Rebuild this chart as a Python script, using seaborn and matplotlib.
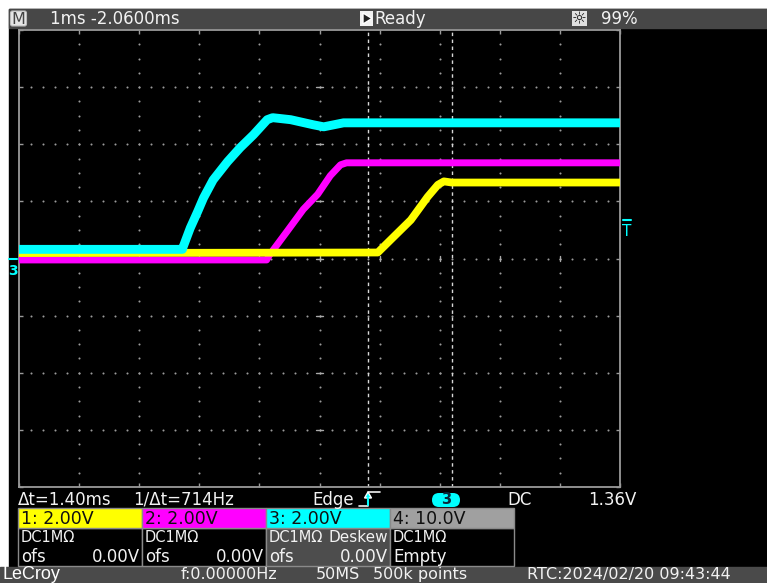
import numpy as np
import pandas as pd
import matplotlib
matplotlib.use("Agg")
import matplotlib.pyplot as plt
import seaborn as sns
from matplotlib.patches import Rectangle, FancyBboxPatch, Polygon

# ---------------- data (time in ms from left screen edge, volts) ----------------
ch1_t = [0.0, 5.97, 6.23, 6.52, 6.80, 6.97, 7.07, 7.20, 10.0]          # yellow
ch1_v = [0.19, 0.21, 0.75, 1.35, 2.16, 2.58, 2.70, 2.66, 2.66]
ch2_t = [0.0, 4.12, 4.16, 4.45, 4.73, 4.97, 5.18, 5.35, 5.45, 10.0]    # magenta
ch2_v = [-0.05, -0.05, 0.10, 0.92, 1.72, 2.25, 2.90, 3.28, 3.35, 3.35]
ch3_t = [0.0, 2.72, 2.73, 2.85, 2.97, 3.07, 3.23, 3.47, 3.68, 3.90,
         4.13, 4.22, 4.52, 4.90, 5.07, 5.40, 10.0]                     # cyan
ch3_v = [0.32, 0.32, 0.40, 1.07, 1.63, 2.12, 2.75, 3.39, 3.88, 4.33,
         4.86, 4.93, 4.86, 4.68, 4.61, 4.75, 4.75]

cursor_times = [5.8, 7.2]
channel_labels = ["1: 2.00V", "2: 2.00V", "3: 2.00V", "4: 10.0V"]
channel_colors = ["#ffff00", "#ff00ff", "#00ffff", "#a0a0a0"]
body_row1 = [("DC1MΩ", ""), ("DC1MΩ", ""), ("DC1MΩ", "Deskew"), ("DC1MΩ", "")]
body_row2 = [("ofs", "0.00V"), ("ofs", "0.00V"), ("ofs", "0.00V"), ("Empty", "")]

df = pd.concat([
    pd.DataFrame({"t": ch2_t, "v": ch2_v, "ch": "C2"}),
    pd.DataFrame({"t": ch1_t, "v": ch1_v, "ch": "C1"}),
    pd.DataFrame({"t": ch3_t, "v": ch3_v, "ch": "C3"}),
], ignore_index=True)
palette = {"C1": "#ffff00", "C2": "#ff00ff", "C3": "#00ffff"}
widths = {"C2": 5.0, "C1": 5.6, "C3": 6.4}

# ---------------- figure ----------------
W, H = 767, 583
sns.set_theme(style="dark")
plt.rcParams["font.family"] = ["DejaVu Sans"]
fig = plt.figure(figsize=(W / 100, H / 100), dpi=100, facecolor="white")

bg = fig.add_axes([0, 0, 1, 1])
bg.set_xlim(0, W)
bg.set_ylim(H, 0)
bg.axis("off")
bg.add_patch(Rectangle((9, 9), W - 9, 560, color="black", zorder=0))
bg.add_patch(Rectangle((9, 9), W - 9, 19, color="#474747", zorder=1))
bg.add_patch(Rectangle((0, 567), W, 16, color="#4a4a4a", zorder=1))

txt = dict(color="#f2f2f2", fontsize=12, va="center", ha="left", zorder=5)

# top bar
bg.add_patch(FancyBboxPatch((10.5, 11), 16, 15, boxstyle="round,pad=0,rounding_size=2",
                            fc="#e6e6e6", ec="#bbbbbb", lw=0.8, zorder=3))
bg.text(18.5, 19, "M", color="#444444", fontsize=11.5, ha="center", va="center", zorder=5)
bg.text(50, 19, "1ms -2.0600ms", **txt)
bg.add_patch(Rectangle((360, 11), 13, 15, fc="#f2f2f2", ec="none", zorder=3))
bg.add_patch(Polygon([(363, 13), (363, 24), (372, 18.5)], closed=True, fc="#222222", zorder=4))
bg.text(374, 19, "Ready", **txt)
bg.add_patch(Rectangle((572, 11), 15, 15, fc="#e0e0e0", ec="none", zorder=3))
bg.text(579.5, 19, "☼", color="#111111", fontsize=12, ha="center", va="center", zorder=5)
bg.text(601, 19, "99%", **txt)

# ---------------- scope grid axes ----------------
ax = fig.add_axes([19 / W, 1 - 487 / H, 601 / W, 457 / H])
ax.set_facecolor("black")
ax.set_xlim(0, 10)
ax.set_ylim(-8, 8)

xmaj = np.arange(1, 10)
ymaj = np.arange(-6, 7, 2)
xmin = np.arange(0.2, 10, 0.2)
ymin = np.arange(-7.5, 8, 0.5)
gx = np.concatenate([np.repeat(xmaj, len(ymin)), np.tile(xmin, len(ymaj))])
gy = np.concatenate([np.tile(ymin, len(xmaj)), np.repeat(ymaj, len(xmin))])
ax.scatter(gx, gy, s=2.2, c="#9a9a9a", linewidths=0, zorder=1)
# centre cross tick marks
for yv in ymaj:
    ax.plot([4.94, 5.06], [yv, yv], color="#aaaaaa", lw=1, zorder=1)
for xv in xmaj:
    ax.plot([xv, xv], [-0.1, 0.1], color="#aaaaaa", lw=1, zorder=1)

for ct in cursor_times:
    ax.axvline(ct, color="#d8d8d8", lw=1, ls=(0, (2.5, 2.5)), zorder=2)

sns.lineplot(data=df, x="t", y="v", hue="ch", hue_order=["C2", "C1", "C3"],
             palette=palette, sort=False, estimator=None, legend=False, ax=ax, zorder=3)
for line, ch in zip(ax.get_lines()[-3:], ["C2", "C1", "C3"]):
    line.set_linewidth(widths[ch])
    line.set_solid_joinstyle("round")

ax.set_xlabel("")
ax.set_ylabel("")
ax.set_xticks(range(0, 11))
ax.set_yticks(range(-8, 9, 2))
ax.tick_params(axis="both", which="both", direction="in", length=3, width=1, color="#9a9a9a",
               bottom=True, top=True, left=True, right=True,
               labelbottom=False, labelleft=False)
ax.grid(False)
for sp in ax.spines.values():
    sp.set_visible(True)
    sp.set_color("#9a9a9a")
    sp.set_linewidth(1.3)

# channel markers
bg.add_patch(Polygon([(191, 32), (201, 32), (196, 37)], closed=True, fc="#00ffff", zorder=6))
bg.plot([9, 17], [258.5, 258.5], color="#00ffff", lw=1.5, zorder=6)
bg.text(13, 271, "3", color="#00ffff", fontsize=10, fontweight="bold", ha="center", va="center", zorder=6)
bg.plot([623, 631], [219.5, 219.5], color="#00ffff", lw=1.5, zorder=6)
bg.text(627, 231, "T", color="#00ffff", fontsize=11, ha="center", va="center", zorder=6)

# ---------------- info row ----------------
bg.text(18, 500, "Δt=1.40ms", **txt)
bg.text(133, 500, "1/Δt=714Hz", **txt)
bg.text(312, 500, "Edge", **txt)
bg.plot([359, 368, 368, 380], [506, 506, 492, 492], color="#f2f2f2", lw=1.2, zorder=5)
bg.add_patch(Polygon([(364.5, 498), (371.5, 498), (368, 492)], closed=True, fc="#00ffff", zorder=6))
bg.plot([368, 368], [498, 505], color="#00ffff", lw=1.5, zorder=6)
bg.add_patch(FancyBboxPatch((432, 493), 28, 14, boxstyle="round,pad=0,rounding_size=7",
                            fc="#00ffff", ec="none", zorder=4))
bg.text(446, 500, "3", color="#0a2a3a", fontsize=10.5, fontweight="bold", ha="center", va="center", zorder=5)
bg.text(507, 500, "DC", **txt)
bg.text(588, 500, "1.36V", **txt)

# ---------------- channel boxes ----------------
box_x = [18, 142, 266, 390, 514]
body_fill = ["black", "black", "#4d4d4d", "black"]
for i in range(4):
    x0, x1 = box_x[i], box_x[i + 1]
    bg.add_patch(Rectangle((x0, 528), x1 - x0, 38, fc=body_fill[i], ec="#8a8a8a", lw=1, zorder=3))
    bg.add_patch(Rectangle((x0, 508), x1 - x0, 20, fc=channel_colors[i], ec="#8a8a8a", lw=1, zorder=3))
    bg.text(x0 + 3, 518.5, channel_labels[i], color="#101010", fontsize=12.5, va="center", ha="left", zorder=5)
    l1, r1 = body_row1[i]
    bg.text(x0 + 3, 538, l1, color="#f2f2f2", fontsize=10.5, va="center", ha="left", zorder=5)
    if r1:
        bg.text(x1 - 2, 538, r1, color="#f2f2f2", fontsize=11, va="center", ha="right", zorder=5)
    l2, r2 = body_row2[i]
    bg.text(x0 + 3, 556.5, l2, **txt)
    if r2:
        bg.text(x1 - 2, 556.5, r2, color="#f2f2f2", fontsize=12, va="center", ha="right", zorder=5)

# ---------------- status bar ----------------
sb = dict(color="#f2f2f2", fontsize=11.5, va="center", ha="left", zorder=5)
bg.text(2, 574.5, "LeCroy", color="#ffffff", fontsize=13, family=["Liberation Sans", "DejaVu Sans"],
        va="center", ha="left", zorder=5)
bg.text(181, 574.5, "f:0.00000Hz", **sb)
bg.text(316, 574.5, "50MS", **sb)
bg.text(373, 574.5, "500k points", **sb)
bg.text(527, 574.5, "RTC:2024/02/20 09:43:44", **sb)

fig.savefig("out.png", dpi=100, facecolor=fig.get_facecolor())
